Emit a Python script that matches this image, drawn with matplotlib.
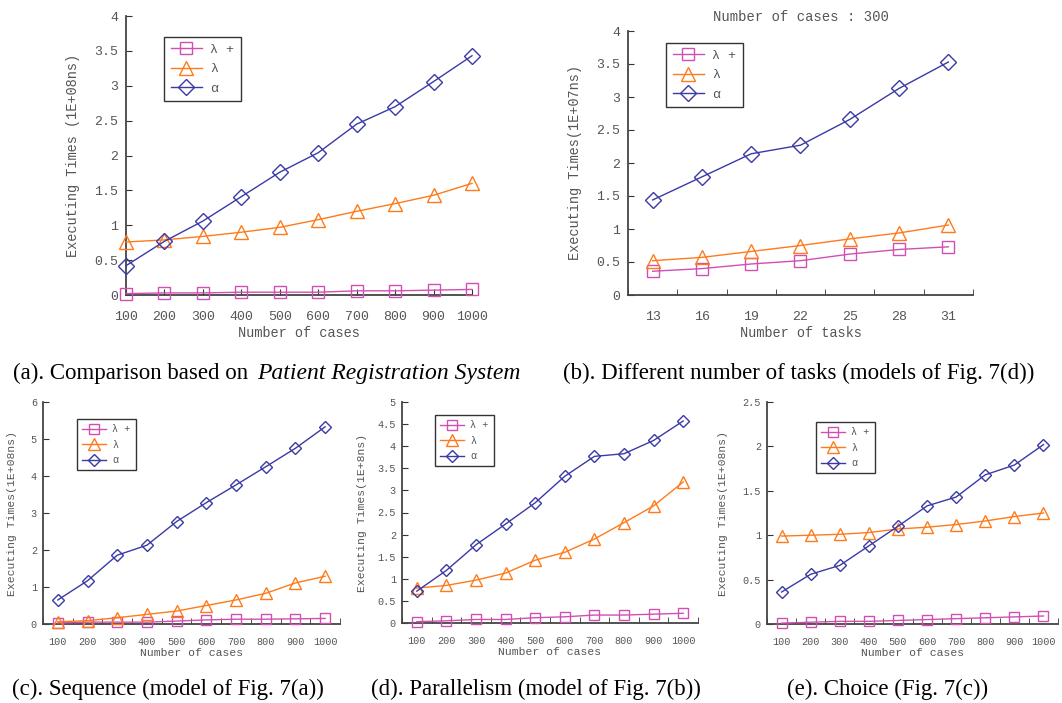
import matplotlib
matplotlib.use("Agg")
import matplotlib.pyplot as plt

W, H = 1062, 703

cases = ["100", "200", "300", "400", "500", "600", "700", "800", "900", "1000"]
tasks = ["13", "16", "19", "22", "25", "28", "31"]

a_alpha = [0.42, 0.77, 1.06, 1.41, 1.76, 2.04, 2.45, 2.70, 3.06, 3.43]
a_lam = [0.76, 0.79, 0.84, 0.90, 0.97, 1.08, 1.20, 1.31, 1.43, 1.60]
a_lamp = [0.02, 0.03, 0.03, 0.04, 0.04, 0.04, 0.06, 0.06, 0.07, 0.08]

b_alpha = [1.44, 1.79, 2.14, 2.27, 2.66, 3.13, 3.53]
b_lam = [0.52, 0.57, 0.66, 0.75, 0.85, 0.94, 1.06]
b_lamp = [0.36, 0.40, 0.47, 0.52, 0.62, 0.69, 0.73]

c_alpha = [0.65, 1.17, 1.86, 2.13, 2.77, 3.28, 3.76, 4.25, 4.75, 5.33]
c_lam = [0.06, 0.09, 0.17, 0.26, 0.35, 0.50, 0.65, 0.83, 1.11, 1.29]
c_lamp = [0.03, 0.05, 0.05, 0.05, 0.08, 0.11, 0.13, 0.13, 0.14, 0.15]

d_alpha = [0.72, 1.19, 1.77, 2.24, 2.72, 3.32, 3.77, 3.83, 4.13, 4.57]
d_lam = [0.79, 0.85, 0.97, 1.13, 1.42, 1.60, 1.90, 2.27, 2.65, 3.19]
d_lamp = [0.03, 0.05, 0.08, 0.08, 0.12, 0.14, 0.18, 0.18, 0.20, 0.22]

e_alpha = [0.36, 0.56, 0.66, 0.88, 1.10, 1.33, 1.43, 1.68, 1.79, 2.02]
e_lam = [0.99, 1.00, 1.01, 1.03, 1.07, 1.09, 1.12, 1.16, 1.21, 1.25]
e_lamp = [0.01, 0.02, 0.03, 0.03, 0.04, 0.05, 0.06, 0.07, 0.08, 0.09]

series_names = ["λ +", "λ", "α"]

C_LP = "#d24fb2"
C_L = "#ff7a1a"
C_A = "#3a3aa6"
TXT = "#555555"
MONO = "Liberation Mono"
SERIF = "Liberation Serif"

fig = plt.figure(figsize=(W / 100, H / 100), dpi=100)


def add_ax(l, t, r, b):
    return fig.add_axes([l / W, 1 - b / H, (r - l) / W, (b - t) / H])


def panel(ax, cats, lp, lm, al, ymax, ystep, ylabel, fs, lfs, ms, on_tick,
          leg_pos, ylab_x, xlabel, xlpad):
    x = list(range(len(cats)))
    ax.plot(x, lp, color=C_LP, marker="s", mfc="none", mec=C_LP, ms=ms,
            lw=1.0, mew=1.0, label=series_names[0], clip_on=False, zorder=3)
    ax.plot(x, lm, color=C_L, marker="^", mfc="none", mec=C_L, ms=ms + 1,
            lw=1.0, mew=1.0, label=series_names[1], clip_on=False, zorder=4)
    ax.plot(x, al, color=C_A, marker="D", mfc="none", mec=C_A, ms=ms - 0.5,
            lw=1.0, mew=1.0, label=series_names[2], clip_on=False, zorder=5)
    ax.set_ylim(0, ymax)
    n = int(round(ymax / ystep))
    yt = [i * ystep for i in range(n + 1)]
    ax.set_yticks(yt)
    ax.set_yticklabels([("%g" % v) for v in yt])
    if on_tick:
        ax.set_xlim(0, len(cats) - 1)
        ax.set_xticks(x)
        ax.set_xticklabels(cats)
    else:
        ax.set_xlim(-0.5, len(cats) - 0.5)
        ax.set_xticks(x)
        ax.set_xticklabels(cats)
        ax.set_xticks([i - 0.5 for i in range(len(cats) + 1)], minor=True)
    for s in ("top", "right"):
        ax.spines[s].set_visible(False)
    for s in ("left", "bottom"):
        ax.spines[s].set_color("#444444")
        ax.spines[s].set_linewidth(1.3)
    ax.tick_params(axis="both", direction="in", length=4, color="#333333",
                   labelsize=fs, labelcolor=TXT, pad=fs * 0.6)
    ax.tick_params(axis="x", pad=fs * 1.25)
    if not on_tick:
        ax.tick_params(axis="x", which="major", length=0)
        ax.tick_params(axis="x", which="minor", direction="in", length=4,
                       color="#333333")
    for lab in ax.get_xticklabels() + ax.get_yticklabels():
        lab.set_family(MONO)
    ax.set_xlabel(xlabel, family=MONO, fontsize=lfs, color=TXT,
                  labelpad=xlpad)
    ax.set_ylabel(ylabel, family=MONO, fontsize=lfs, color=TXT)
    bbox = ax.get_position()
    ax.yaxis.set_label_coords((ylab_x / W - bbox.x0) / bbox.width, 0.5)
    l, t = leg_pos
    leg = ax.legend(loc="upper left", bbox_to_anchor=(l / W, 1 - t / H),
                    bbox_transform=fig.transFigure,
                    prop={"family": MONO, "size": fs}, frameon=True,
                    fancybox=False, edgecolor="black", handlelength=2.4,
                    borderpad=0.5, labelspacing=0.55, borderaxespad=0,
                    handletextpad=0.6)
    leg.get_frame().set_linewidth(1.0)
    for txt in leg.get_texts():
        txt.set_color(TXT)


axa = add_ax(126, 16, 472, 295)
panel(axa, cases, a_lamp, a_lam, a_alpha, 4, 0.5,
      "Executing Times (1E+08ns)", 9.5, 9.8, 9, True,
      (164, 37), 80, "Number of cases", 2)

axb = add_ax(628, 31, 973, 295)
panel(axb, tasks, b_lamp, b_lam, b_alpha, 4, 0.5,
      "Executing Times(1E+07ns)", 9.5, 9.8, 9, False,
      (666, 43), 582, "Number of tasks", 2)
axb.set_title("Number of cases : 300", family=MONO, fontsize=10, color=TXT,
              pad=7)

axc = add_ax(43, 402, 340, 624)
panel(axc, cases, c_lamp, c_lam, c_alpha, 6, 1,
      "Executing Times(1E+08ns)", 7.3, 8.2, 7, False,
      (77, 419), 17, "Number of cases", 1)

axd = add_ax(402, 402, 698, 623)
panel(axd, cases, d_lamp, d_lam, d_alpha, 5, 0.5,
      "Executing Times(1E+8ns)", 7.3, 8.2, 7, False,
      (435, 415), 367, "Number of cases", 1)

axe = add_ax(767, 402, 1058, 624)
panel(axe, cases, e_lamp, e_lam, e_alpha, 2.5, 0.5,
      "Executing Times(1E+08ns)", 7.3, 8.2, 7, False,
      (816, 422), 728, "Number of cases", 1)

cap_fs = 16.5
t1 = fig.text(13 / W, 1 - 373 / H, "(a). Comparison based on ", family=SERIF,
              fontsize=cap_fs, va="center", ha="left")
fig.canvas.draw()
ext = t1.get_window_extent(renderer=fig.canvas.get_renderer())
fig.text(ext.x1 / W + 3 / W, 1 - 373 / H, "Patient Registration System",
         family=SERIF, fontsize=cap_fs + 0.5, va="center", ha="left",
         style="italic")
fig.text(563 / W, 1 - 373 / H, "(b). Different number of tasks (models of Fig. 7(d))",
         family=SERIF, fontsize=cap_fs, va="center", ha="left")
fig.text(12 / W, 1 - 689 / H, "(c). Sequence (model of Fig. 7(a))",
         family=SERIF, fontsize=cap_fs, va="center", ha="left")
fig.text(371 / W, 1 - 689 / H, "(d). Parallelism (model of Fig. 7(b))",
         family=SERIF, fontsize=cap_fs, va="center", ha="left")
fig.text(787 / W, 1 - 689 / H, "(e). Choice (Fig. 7(c))",
         family=SERIF, fontsize=cap_fs, va="center", ha="left")

fig.savefig("out.png", dpi=100)
